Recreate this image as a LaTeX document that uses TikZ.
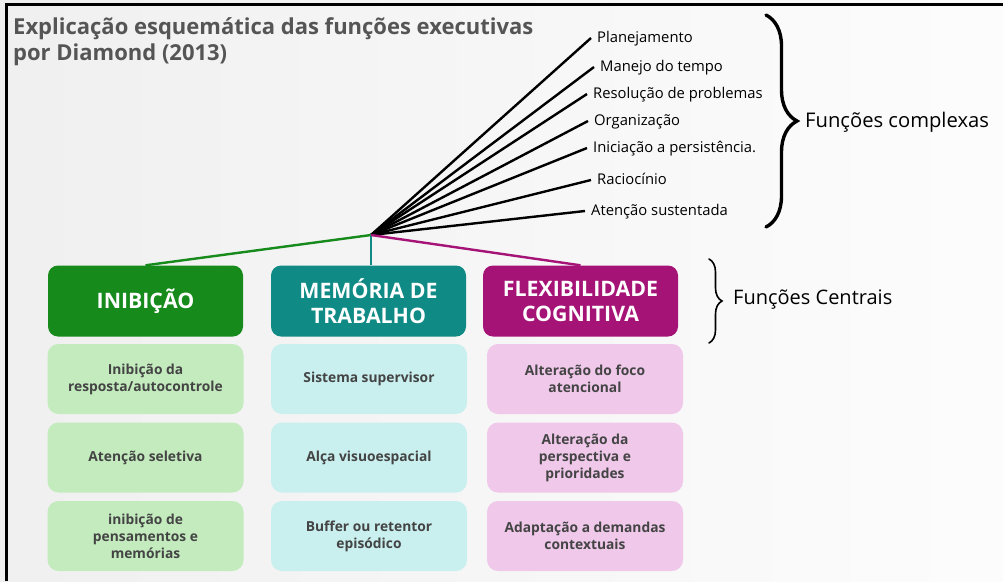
\documentclass[tikz,border=0pt]{standalone}
\usepackage{fontspec}
\setmainfont{Open Sans}
\usetikzlibrary{decorations.pathreplacing}
\definecolor{titlegray}{HTML}{555555}
\definecolor{subtext}{HTML}{444444}
\definecolor{hgreen}{HTML}{168A1B}
\definecolor{hteal}{HTML}{0F8A84}
\definecolor{hmag}{HTML}{A51376}
\definecolor{lgreen}{HTML}{C3EBBE}
\definecolor{lteal}{HTML}{C9EFEF}
\definecolor{lpink}{HTML}{EFC8EA}
\tikzset{
  fanlab/.style={anchor=west, inner xsep=6pt, inner ysep=0pt, text height=11pt, text depth=3pt, font=\fontsize{14.8}{17}\selectfont, text=black},
  fanline/.style={line width=2.4pt, black},
  header/.style={rounded corners=10pt, minimum width=195pt, minimum height=71pt, inner sep=0pt, align=center, text=white, font=\bfseries\fontsize{21.3}{25}\selectfont},
  subbox/.style={rounded corners=11pt, minimum width=196pt, minimum height=70pt, inner sep=0pt, align=center, text=subtext, font=\bfseries\fontsize{13.8}{17}\selectfont},
  conn/.style={line width=2.4pt},
  bracedraw/.style={decorate, line width=3.4pt, line cap=round},
  titletext/.style={anchor=base west, inner sep=0pt, text=titlegray, font=\bfseries\fontsize{22}{25}\selectfont}
}
\begin{document}
\begin{tikzpicture}[x=1pt,y=-1pt]
\useasboundingbox (0,0) rectangle (1003,581);
\shade[left color=black!6, right color=black!1] (0,0) rectangle (1003,581);
\draw[line width=3pt] (6,581) -- (6,4) -- (1003,4);

\node[titletext] (t1) at (13,34) {Explicação esquemática das funções executivas};
\node[titletext] (t2) at (13,60) {por Diamond (2013)};

\coordinate (hub) at (371,235);

\node[fanlab] (f1) at (591,38) {Planejamento};
\node[fanlab] (f2) at (594,67) {Manejo do tempo};
\node[fanlab] (f3) at (587,94) {Resolução de problemas};
\node[fanlab] (f4) at (588,121) {Organização};
\node[fanlab] (f5) at (587,148) {Iniciação a persistência.};
\node[fanlab] (f6) at (591,180) {Raciocínio};
\node[fanlab] (f7) at (585,211) {Atenção sustentada};
\foreach \n in {1,...,7} \draw[fanline] (hub) -- (f\n.west);

\draw[bracedraw, decoration={brace, amplitude=31pt}] (766,15) -- (766,227);
\node[anchor=west, inner sep=0pt, font=\fontsize{20.2}{23}\selectfont] (fc) at (805,122) {Funções complexas};

\draw[bracedraw, line width=1.6pt, decoration={brace, amplitude=13pt}] (709,259) -- (709,343);
\node[anchor=west, inner sep=0pt, font=\fontsize{20}{23}\selectfont] (fcen) at (733,300) {Funções Centrais};

\node[header, fill=hgreen] (inib) at (145.5,301) {INIBIÇÃO};
\node[header, fill=hteal] (mem) at (368.5,301) {MEMÓRIA DE\\TRABALHO};
\node[header, fill=hmag] (flex) at (580.5,301) {FLEXIBILIDADE\\COGNITIVA};

\draw[conn, hgreen] (hub) -- (inib.north);
\draw[conn, hteal] (hub) -- (hub |- mem.north);
\draw[conn, hmag] (hub) -- (flex.north);

\node[subbox, fill=lgreen] (g1) at (145.5,379) {Inibição da\\resposta/autocontrole};
\node[subbox, fill=lgreen] (g2) at (145.5,457.5) {Atenção seletiva};
\node[subbox, fill=lgreen] (g3) at (145.5,536) {inibição de\\pensamentos e\\memórias};

\node[subbox, fill=lteal] (m1) at (369,379) {Sistema supervisor};
\node[subbox, fill=lteal] (m2) at (369,457.5) {Alça visuoespacial};
\node[subbox, fill=lteal] (m3) at (369,536) {Buffer ou retentor\\episódico};

\node[subbox, fill=lpink] (p1) at (585,379) {Alteração do foco\\atencional};
\node[subbox, fill=lpink] (p2) at (585,457.5) {Alteração da\\perspectiva e\\prioridades};
\node[subbox, fill=lpink] (p3) at (585,536) {Adaptação a demandas\\contextuais};
\end{tikzpicture}
\end{document}
